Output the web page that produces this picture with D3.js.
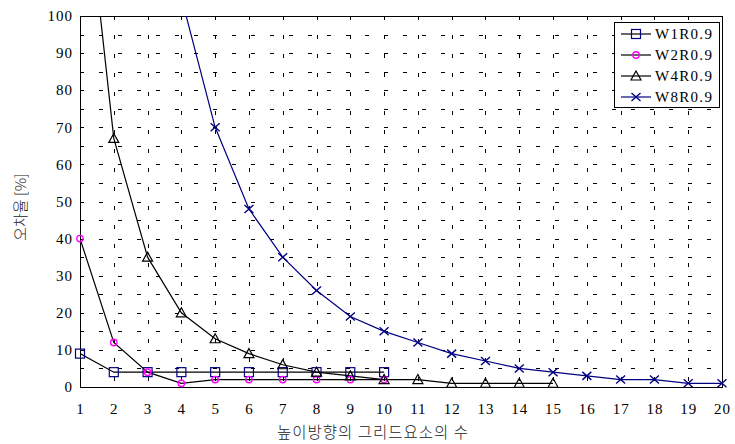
<!DOCTYPE html>
<html>
<head>
<meta charset="utf-8">
<script src="https://cdn.jsdelivr.net/npm/d3@7"></script>
<style>
  body { margin: 0; background: #fff; }
  .num { font-family: "Liberation Serif", "Times New Roman", serif; }
  .kr { font-family: "Noto Sans CJK KR", sans-serif; font-weight: 300; }
</style>
</head>
<body>
<svg id="chart" width="735" height="444"></svg>
<script>
const width = 735;
const height = 444;

// grid element count (x) and error values (%)
const xTicks = d3.range(1, 21);
const yTicks = d3.range(0, 101, 10);

const w1x = [1, 2, 3, 4, 5, 6, 7, 8, 9, 10];
const w1y = [9, 4, 4, 4, 4, 4, 4, 4, 4, 4];

const w2x = [1, 2, 3, 4, 5, 6, 7, 8, 9, 10];
const w2y = [40, 12, 4, 1, 2, 2, 2, 2, 2, 2];

const w4x = [1, 2, 3, 4, 5, 6, 7, 8, 9, 10, 11, 12, 13, 14, 15];
const w4y = [150, 67, 35, 20, 13, 9, 6, 4, 3, 2, 2, 1, 1, 1, 1];

const w8x = [4, 5, 6, 7, 8, 9, 10, 11, 12, 13, 14, 15, 16, 17, 18, 19, 20];
const w8y = [105, 70, 48, 35, 26, 19, 15, 12, 9, 7, 5, 4, 3, 2, 2, 1, 1];

const seriesNames = ["W1R0.9", "W2R0.9", "W4R0.9", "W8R0.9"];

const margin = { left: 80, right: 13, top: 16, bottom: 57 };

const x = d3.scaleLinear().domain([1, 20]).range([margin.left, width - margin.right]);
const y = d3.scaleLinear().domain([0, 100]).range([height - margin.bottom, margin.top]);

const svg = d3.select("#chart");

svg.append("clipPath").attr("id", "plot-clip")
    .append("rect")
    .attr("x", x(1)).attr("y", y(100))
    .attr("width", x(20) - x(1)).attr("height", y(0) - y(100));

// dashed grid
const grid = svg.append("g").attr("stroke", "#000").attr("stroke-width", 1)
    .attr("stroke-dasharray", "4,15");

grid.selectAll("line.h")
    .data(d3.range(5, 100, 5))
    .join("line")
    .attr("class", "h")
    .attr("x1", x(1)).attr("x2", x(20))
    .attr("y1", d => Math.round(y(d)) + 0.5)
    .attr("y2", d => Math.round(y(d)) + 0.5);

grid.selectAll("line.v")
    .data(d3.range(2, 20))
    .join("line")
    .attr("class", "v")
    .attr("y1", y(100)).attr("y2", y(0))
    .attr("x1", d => Math.round(x(d)) + 0.5)
    .attr("x2", d => Math.round(x(d)) + 0.5);

// frame
svg.append("rect")
    .attr("x", Math.round(x(1)) + 0.5).attr("y", Math.round(y(100)) + 0.5)
    .attr("width", Math.round(x(20)) - Math.round(x(1)))
    .attr("height", Math.round(y(0)) - Math.round(y(100)))
    .attr("fill", "none").attr("stroke", "#000").attr("stroke-width", 1);

// tick labels
svg.append("g").selectAll("text")
    .data(yTicks)
    .join("text")
    .attr("class", "num")
    .attr("x", x(1) - 7)
    .attr("y", d => y(d))
    .attr("dy", "0.35em")
    .attr("text-anchor", "end")
    .attr("font-size", 15)
    .attr("letter-spacing", 1)
    .text(d => d);

svg.append("g").selectAll("text")
    .data(xTicks)
    .join("text")
    .attr("class", "num")
    .attr("x", d => x(d) + 0.5)
    .attr("y", y(0) + 22)
    .attr("dy", "0.35em")
    .attr("text-anchor", "middle")
    .attr("font-size", 15)
    .attr("letter-spacing", 1)
    .text(d => d);

// axis titles
svg.append("text")
    .attr("class", "kr")
    .attr("x", 373)
    .attr("y", 433)
    .attr("dy", "0.35em")
    .attr("text-anchor", "middle")
    .attr("font-size", 15.5)
    .attr("letter-spacing", 1)
    .attr("fill", "#222")
    .text("높이방향의 그리드요소의 수");

svg.append("text")
    .attr("class", "kr")
    .attr("transform", "translate(21,207) rotate(-90)")
    .attr("dy", "0.35em")
    .attr("text-anchor", "middle")
    .attr("font-size", 15)
    .attr("fill", "#222")
    .text("오차율 [%]");

// marker drawing
function drawMarker(g, type, color) {
    if (type === "square") {
        g.append("rect").attr("x", -4.5).attr("y", -4.5).attr("width", 9).attr("height", 9)
            .attr("fill", "none").attr("stroke", color).attr("stroke-width", 1.2);
    } else if (type === "circle") {
        g.append("circle").attr("r", 3.2).attr("fill", "none")
            .attr("stroke", color).attr("stroke-width", 1.4);
    } else if (type === "triangle") {
        g.append("path").attr("d", "M0,-5L5,4L-5,4Z").attr("fill", "none")
            .attr("stroke", color).attr("stroke-width", 1.2);
    } else if (type === "cross") {
        g.append("path").attr("d", "M-4.5,-4L4.5,4M-4.5,4L4.5,-4").attr("fill", "none")
            .attr("stroke", color).attr("stroke-width", 1.4);
    }
}

const series = [
    { name: seriesNames[0], xs: w1x, ys: w1y, line: "#000", mark: "#000080", type: "square" },
    { name: seriesNames[1], xs: w2x, ys: w2y, line: "#000", mark: "#ff00ff", type: "circle" },
    { name: seriesNames[2], xs: w4x, ys: w4y, line: "#000", mark: "#000", type: "triangle" },
    { name: seriesNames[3], xs: w8x, ys: w8y, line: "#000080", mark: "#000080", type: "cross" }
];

const line = d3.line().x(d => x(d[0])).y(d => y(d[1]));

const plot = svg.append("g").attr("clip-path", "url(#plot-clip)");

series.forEach(s => {
    const pts = s.xs.map((v, i) => [v, s.ys[i]]);
    plot.append("path")
        .attr("d", line(pts))
        .attr("fill", "none")
        .attr("stroke", s.line)
        .attr("stroke-width", 1.2);
});

// markers are not clipped, only points above the axis range are skipped
const marks = svg.append("g");
series.forEach(s => {
    const pts = s.xs.map((v, i) => [v, s.ys[i]]).filter(p => p[1] <= 100);
    marks.selectAll(null)
        .data(pts)
        .join("g")
        .attr("transform", d => `translate(${x(d[0])},${y(d[1])})`)
        .each(function () { drawMarker(d3.select(this), s.type, s.mark); });
});

// legend
const legend = svg.append("g");
legend.append("rect")
    .attr("x", 614.5).attr("y", 22.5).attr("width", 105).attr("height", 85)
    .attr("fill", "#fff").attr("stroke", "#000").attr("stroke-width", 1);

series.forEach((s, i) => {
    const ly = 34 + i * 21;
    const row = legend.append("g");
    row.append("line")
        .attr("x1", 621).attr("x2", 651).attr("y1", ly).attr("y2", ly)
        .attr("stroke", s.line).attr("stroke-width", 1.2);
    drawMarker(row.append("g").attr("transform", `translate(636,${ly})`), s.type, s.mark);
    row.append("text")
        .attr("class", "num")
        .attr("x", 655).attr("y", ly)
        .attr("dy", "0.35em")
        .attr("font-size", 15)
        .attr("letter-spacing", 1.3)
        .text(s.name);
});
</script>
</body>
</html>
